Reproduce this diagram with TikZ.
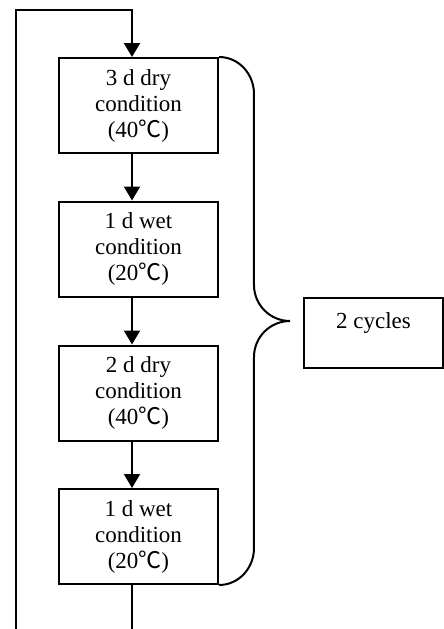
\documentclass[tikz,border=0pt]{standalone}
\usepackage{fontspec}
\setmainfont{Liberation Serif}
\newfontfamily\cjk{Noto Sans CJK SC}
\usetikzlibrary{arrows.meta,
	calc,
	positioning
}
\newcommand{\degC}{{\cjk ℃}}
\tikzset{
	stage/.style={draw, line width=1pt, minimum width=79.5pt, minimum height=47.5pt, inner sep=0pt, align=center, font=\fontsize{11.5}{13}\selectfont},
	note/.style={draw, line width=1pt, minimum width=69.5pt, inner sep=0pt, text height=15pt, text depth=20pt, font=\fontsize{11.5}{13}\selectfont},
	flow/.style={line width=1pt, -{Triangle[length=7pt,width=8pt]}},
	plain/.style={line width=1pt},
}

\begin{document}
\begin{tikzpicture}[x=0.5pt,y=-0.5pt]

\useasboundingbox (0,0) rectangle (444,629);

% graph

\node[stage] (s1) at (138.5,105.5) {3 d dry\\condition\\(40\degC)};
\node[stage] (s2) at (138.5,249) {1 d wet\\condition\\(20\degC)};
\node[stage] (s3) at (138.5,393) {2 d dry\\condition\\(40\degC)};
\node[stage] (s4) at (138.5,536.5) {1 d wet\\condition\\(20\degC)};

\node[note] (cyc) at (373.5,333) {2 cycles};

\coordinate (top) at (132,10);
\coordinate (corner) at (16,10);
\coordinate (outL) at (16,629);
\coordinate (outR) at (132,629);
\coordinate (tip) at (290,321);

% connections

\draw[flow] (outL) -- (corner) -- (top) -- (s1.north -| top);
\draw[flow] (s1.south -| top) -- (s2.north -| top);
\draw[flow] (s2.south -| top) -- (s3.north -| top);
\draw[flow] (s3.south -| top) -- (s4.north -| top);
\draw[plain] (s4.south -| top) -- (outR);

% brace
\draw[plain] 
(s1.north east) to[out=0, in=90] (254,94)
-- (254,285) to[out=-90, in=180] (tip)
to[out=180, in=90] (254,357)
-- (254,548) to[out=-90, in=0] (s4.south east);

\end{tikzpicture}
\end{document}
